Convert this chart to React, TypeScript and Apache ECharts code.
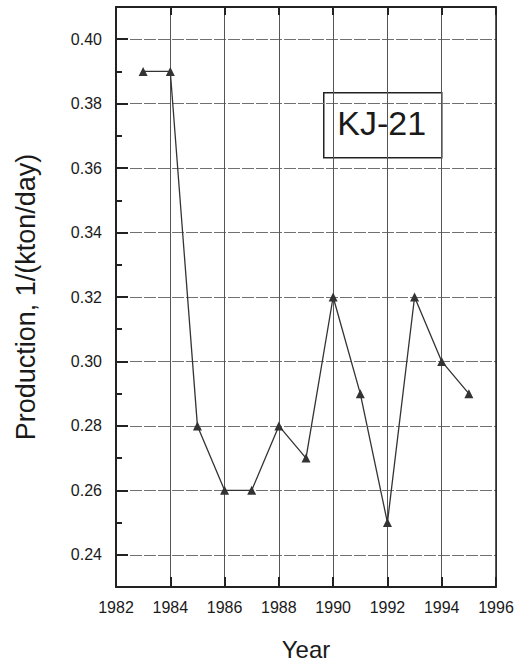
import React, { useEffect, useRef } from "react";
import * as echarts from "echarts";

const years = [1983, 1984, 1985, 1986, 1987, 1988, 1989, 1990, 1991, 1992, 1993, 1994, 1995];
const production = [0.39, 0.39, 0.28, 0.26, 0.26, 0.28, 0.27, 0.32, 0.29, 0.25, 0.32, 0.30, 0.29];
const yMajorTicks = [0.24, 0.26, 0.28, 0.30, 0.32, 0.34, 0.36, 0.38, 0.40];
const wellLabel = "KJ-21";

const FONT = "'Liberation Sans', Arial, sans-serif";

export default function App() {
  const ref = useRef<HTMLDivElement>(null);
  useEffect(() => {
    document.body.style.margin = "0";
    const chart = echarts.init(ref.current!, null, { renderer: "svg" });
    const axisLine = { show: true, lineStyle: { color: "#222", width: 2 } };
    chart.setOption({
      animation: false,
      backgroundColor: "#fff",
      grid: { left: 116, top: 7, width: 380, height: 580, containLabel: false, outerBoundsMode: "none" },
      xAxis: [
        {
          type: "value",
          min: 1982,
          max: 1996,
          interval: 2,
          position: "bottom",
          name: "Year",
          nameLocation: "middle",
          nameGap: 50,
          nameTextStyle: { fontFamily: FONT, fontSize: 24, color: "#1a1a1a" },
          axisLine,
          axisTick: { show: true, inside: true, length: 10, lineStyle: { color: "#222", width: 2 } },
          axisLabel: { fontFamily: FONT, fontSize: 16, color: "#1a1a1a", margin: 12, formatter: (v: number) => String(v) },
          splitLine: { show: true, lineStyle: { color: "#555", width: 1 } },
        },
        {
          type: "value",
          min: 1982,
          max: 1996,
          interval: 2,
          position: "top",
          axisLine,
          axisTick: { show: true, inside: true, length: 8, lineStyle: { color: "#222", width: 2 } },
          axisLabel: { show: false },
          splitLine: { show: false },
        },
      ],
      yAxis: [
        {
          type: "value",
          min: 0.23,
          max: 0.41,
          interval: 0.01,
          position: "left",
          name: "Production, 1/(kton/day)",
          nameLocation: "middle",
          nameGap: 77,
          nameTextStyle: { fontFamily: FONT, fontSize: 27, color: "#1a1a1a" },
          axisLine,
          axisTick: { show: true, inside: true, length: 12, customValues: yMajorTicks, lineStyle: { color: "#222", width: 2 } },
          axisLabel: {
            fontFamily: FONT,
            fontSize: 16,
            color: "#1a1a1a",
            margin: 14,
            customValues: yMajorTicks,
            formatter: (v: number) => v.toFixed(2),
          },
          splitLine: { show: true, lineStyle: { color: "#707070", width: 1, type: [12, 2] } },
        },
        {
          type: "value",
          min: 0.23,
          max: 0.41,
          interval: 0.01,
          position: "left",
          axisLine: { show: false },
          axisTick: { show: true, inside: true, length: 6, lineStyle: { color: "#222", width: 2 } },
          axisLabel: { show: false },
          splitLine: { show: false },
        },
        {
          type: "value",
          min: 0.23,
          max: 0.41,
          interval: 0.01,
          position: "right",
          axisLine: { show: true, lineStyle: { color: "#222", width: 1.5 } },
          axisTick: { show: false },
          axisLabel: { show: false },
          splitLine: { show: false },
        },
      ],
      graphic: [
        {
          type: "group",
          left: 323,
          top: 92,
          children: [
            { type: "rect", shape: { x: 0, y: 0, width: 118, height: 65 }, style: { fill: "#fff", stroke: "#222", lineWidth: 1.5 } },
            {
              type: "text",
              x: 58,
              y: 30,
              style: { text: wellLabel, font: `34px ${FONT}`, fill: "#1a1a1a", align: "center", verticalAlign: "middle" },
            },
          ],
        },
      ],
      series: [
        {
          type: "line",
          xAxisIndex: 0,
          yAxisIndex: 0,
          data: years.map((y, i) => [y, production[i]]),
          symbol: "triangle",
          symbolSize: 9,
          itemStyle: { color: "#333" },
          lineStyle: { color: "#333", width: 1.3 },
        },
      ],
    });
    return () => chart.dispose();
  }, []);
  return <div ref={ref} style={{ width: 518, height: 665 }} />;
}
